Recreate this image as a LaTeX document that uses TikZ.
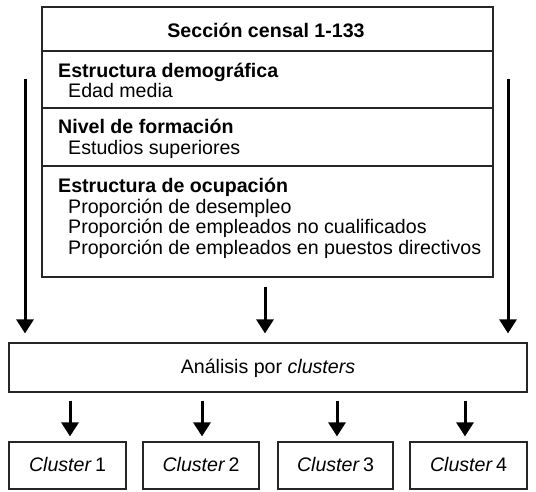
\documentclass[tikz,border=0pt]{standalone}
\usepackage{fontspec}
\setmainfont{Liberation Sans}
\usetikzlibrary{arrows.meta}
\tikzset{
  box/.style={draw=black!85, line width=1.2pt, inner sep=0pt},
  txt/.style={anchor=base west, inner sep=0pt, font=\fontsize{19.6}{21}\selectfont},
  hd/.style={txt, font=\fontsize{19.6}{21}\selectfont\bfseries},
  bigarrow/.style={line width=3pt, -{Triangle[width=17pt,length=14pt]}},
}
\begin{document}
\begin{tikzpicture}[x=1pt,y=-1pt]
\useasboundingbox (0,0) rectangle (536,491);
% top box
\node[box, minimum width=451pt, minimum height=270pt] (top) at (267.5,142) {};
\draw[draw=black!85, line width=1.2pt] (top.west |- 0,51) -- (top.east |- 0,51);
\draw[draw=black!85, line width=1.2pt] (top.west |- 0,108) -- (top.east |- 0,108);
\draw[draw=black!85, line width=1.2pt] (top.west |- 0,166) -- (top.east |- 0,166);
\node[hd, anchor=base] (h0) at (266,37) {Sección censal 1-133};
\node[hd] (h1) at (58,77) {Estructura demográfica};
\node[txt] (t1) at (68,97) {Edad media};
\node[hd] (h2) at (58,133) {Nivel de formación};
\node[txt] (t2) at (68,154) {Estudios superiores};
\node[hd] (h3) at (58,192) {Estructura de ocupación};
\node[txt] (t3) at (68,213) {Proporción de desempleo};
\node[txt] (t4) at (68,233.5) {Proporción de empleados no cualificados};
\node[txt] (t5) at (68,254) {Proporción de empleados en puestos directivos};
% analysis box
\node[box, minimum width=518pt, minimum height=49pt] (an) at (268,367.5) {};
\node[txt, anchor=base] (antxt) at (268,373) {Análisis por \textit{clusters}};
% clusters
\node[box, minimum width=117pt, minimum height=47pt] (c1) at (67.5,465.5) {};
\node[box, minimum width=116pt, minimum height=47pt] (c2) at (201,465.5) {};
\node[box, minimum width=115pt, minimum height=47pt] (c3) at (335.5,465.5) {};
\node[box, minimum width=117pt, minimum height=47pt] (c4) at (468.5,465.5) {};
\node[txt, anchor=base] (c1t) at (67.5,471) {\textit{Cluster}\,1};
\node[txt, anchor=base] (c2t) at (201,471) {\textit{Cluster}\,2};
\node[txt, anchor=base] (c3t) at (335.5,471) {\textit{Cluster}\,3};
\node[txt, anchor=base] (c4t) at (468.5,471) {\textit{Cluster}\,4};
% arrows
\coordinate (ls) at (25,79);
\coordinate (rs) at (508,79);
\draw[bigarrow, shorten >=9pt] (ls) -- (ls |- an.north);
\draw[bigarrow, shorten >=9pt] (rs) -- (rs |- an.north);
\draw[bigarrow, shorten <=9pt, shorten >=9pt] (top.south -| 265,0) -- (an.north -| 265,0);
\draw[bigarrow, shorten <=8pt, shorten >=5pt] (an.south -| 70,0) -- (c1.north -| 70,0);
\draw[bigarrow, shorten <=8pt, shorten >=5pt] (an.south -| 202,0) -- (c2.north -| 202,0);
\draw[bigarrow, shorten <=8pt, shorten >=5pt] (an.south -| 337,0) -- (c3.north -| 337,0);
\draw[bigarrow, shorten <=8pt, shorten >=5pt] (an.south -| 465,0) -- (c4.north -| 465,0);
\end{tikzpicture}
\end{document}
